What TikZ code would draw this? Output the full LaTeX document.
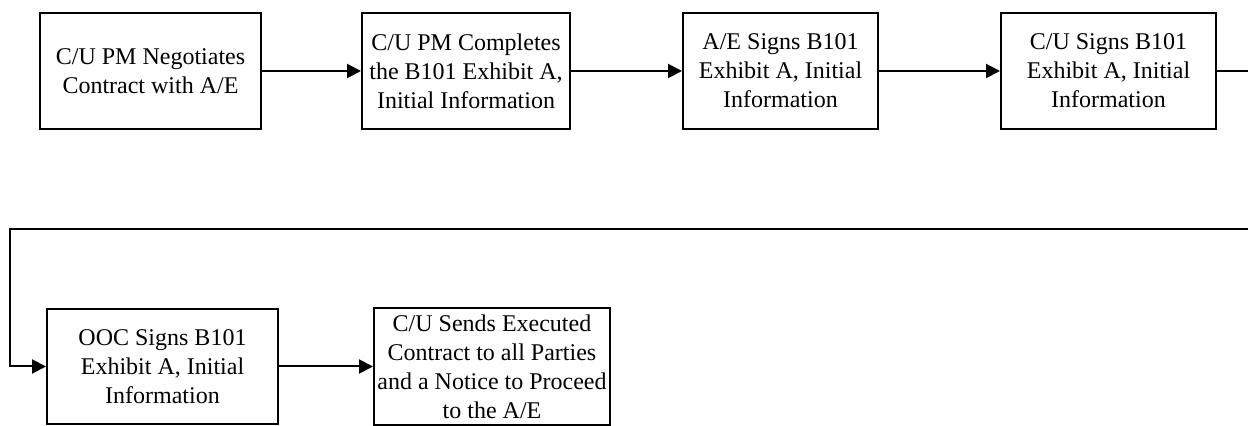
\documentclass[tikz,border=0pt]{standalone}
\usepackage{fontspec}
\setmainfont{Liberation Serif}
\usetikzlibrary{arrows.meta}
\tikzset{
>={Triangle[length=7pt,width=7pt]}, % filled arrow heads
stepbox/.style={draw, line width=1pt, align=center, inner sep=1pt,
  font=\fontsize{12}{14.5}\selectfont}, % the process boxes
flow/.style={->, line width=1pt}, % the connectors
}
\begin{document}
\begin{tikzpicture}[x=0.5pt, y=-0.5pt]
    \useasboundingbox (0,0) rectangle (1248,426);
    \node[stepbox, minimum width=110.5pt, minimum height=58pt] at (150.5,71) (negotiate) {C/U PM Negotiates\\Contract with A/E};
    \node[stepbox, minimum width=104pt, minimum height=58pt] at (466,71) (complete) {C/U PM Completes\\the B101 Exhibit A,\\Initial Information};
    \node[stepbox, minimum width=97.5pt, minimum height=58pt] at (780.5,71) (aesigns) {A/E Signs B101\\Exhibit A, Initial\\Information};
    \node[stepbox, minimum width=107.5pt, minimum height=58pt] at (1108.5,71) (cusigns) {C/U Signs B101\\Exhibit A, Initial\\Information};
    \node[stepbox, minimum width=115.5pt, minimum height=57.5pt] at (162.5,366.5) (oocsigns) {OOC Signs B101\\Exhibit A, Initial\\Information};
    \node[stepbox, minimum width=118pt, minimum height=58.5pt] at (492,366.5) (sends) {C/U Sends Executed\\Contract to all Parties\\and a Notice to Proceed\\to the A/E};
    % return path runs off the right edge
    \coordinate (turn) at (1262,229);
    \coordinate (back) at (10,229);
    \draw[flow] (negotiate) -- (complete);
    \draw[flow] (complete) -- (aesigns);
    \draw[flow] (aesigns) -- (cusigns);
    \draw[flow] (cusigns.east) -| (turn) -- (back) |- (oocsigns.west);
    \draw[flow] (oocsigns) -- (sends);
\end{tikzpicture}
\end{document}
